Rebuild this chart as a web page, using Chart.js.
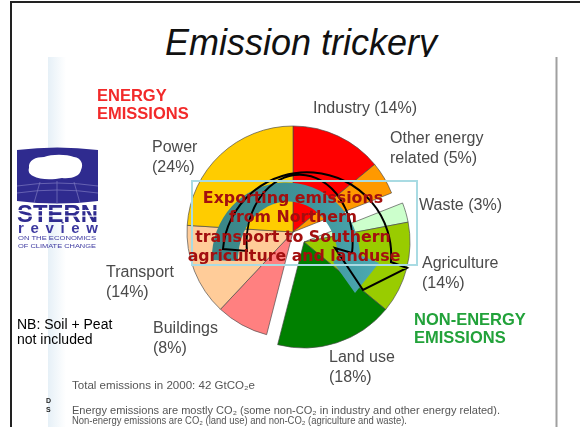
<!DOCTYPE html>
<html>
<head>
<meta charset="utf-8">
<script src="https://cdn.jsdelivr.net/npm/chart.js@4.4.1/dist/chart.umd.min.js"></script>
<style>
  html, body { margin: 0; padding: 0; background: #fff; }
  #slide { position: relative; width: 580px; height: 427px; overflow: hidden; }
  #slide > * { position: absolute; left: 0; top: 0; }
  text { font-family: "Liberation Sans", Arial, sans-serif; }
  .callout text { font-family: "DejaVu Sans", Verdana, sans-serif; }
</style>
</head>
<body>
<div id="slide">
  <svg id="bg" width="580" height="427">
    <defs>
      <linearGradient id="edge" x1="0" x2="1" y1="0" y2="0">
        <stop offset="0" stop-color="#e6f0f7"/>
        <stop offset="1" stop-color="#ffffff"/>
      </linearGradient>
    </defs>
    <text x="301" y="55" text-anchor="middle" font-size="36" font-style="italic" fill="#111">Emission trickery</text>
    <rect x="48" y="57" width="509" height="370" fill="#fff"/>
    <rect x="48" y="57" width="18" height="370" fill="url(#edge)"/>
    <line x1="556.5" y1="57" x2="556.5" y2="427" stroke="#a0a0a0" stroke-width="2"/>
  </svg>

  <canvas id="pie" width="580" height="427"></canvas>

  <svg id="fg" width="580" height="427">
    <defs>
      <linearGradient id="teal" x1="0" x2="1" y1="0" y2="0">
        <stop offset="0" stop-color="#3a8586"/>
        <stop offset="0.55" stop-color="#3f9399"/>
        <stop offset="1" stop-color="#4caab3"/>
      </linearGradient>
    </defs>

    <!-- slide frame -->
    <polyline points="11,427 11,2 580,2" fill="none" stroke="#222" stroke-width="2"/>

    <!-- Stern review logo -->
    <g>
      <path d="M17 150 Q57 145 98 150 L98 201 Q57 206 17 201 Z" fill="#2f2b8f"/>
      <path d="M17 186 Q57 180 98 186 M17 193 Q57 187 98 193 M40 182 L34 203 M57 181 L57 204 M74 182 L80 203"
            fill="none" stroke="#7d79c0" stroke-width="0.7"/>
      <path d="M29 168 C28 160 36 157 44 157 C52 154 66 154 74 157 C81 158 84 164 81 170 C80 176 72 179 62 178 C52 180 40 180 33 176 C29 174 28 171 29 168 Z" fill="#fff"/>
      <text x="17" y="222" font-size="23" font-weight="bold" fill="#2f2b8f" textLength="81" lengthAdjust="spacingAndGlyphs">STERN</text>
      <rect x="17" y="210" width="81" height="1.2" fill="#fff"/>
      <rect x="17" y="215.5" width="81" height="1.2" fill="#fff"/>
      <text x="18" y="233" font-size="15" font-weight="bold" fill="#3d39a0" textLength="80" lengthAdjust="spacing">review</text>
      <text x="18" y="240" font-size="4.6" fill="#3d39a0" textLength="78" lengthAdjust="spacingAndGlyphs">ON THE ECONOMICS</text>
      <text x="18" y="248" font-size="4.6" fill="#3d39a0" textLength="78" lengthAdjust="spacingAndGlyphs">OF CLIMATE CHANGE</text>
    </g>

    <!-- group headings -->
    <g font-size="16.5" font-weight="bold" fill="#f22a2a">
      <text x="97" y="101">ENERGY</text>
      <text x="97" y="119">EMISSIONS</text>
    </g>
    <g font-size="16.5" font-weight="bold" fill="#22a23a">
      <text x="414" y="325">NON-ENERGY</text>
      <text x="414" y="343">EMISSIONS</text>
    </g>

    <g id="labels" font-size="16" fill="#4a4a4a"></g>

    <!-- curved arrow + callout -->
    <path d="M212 260 A74 75 0 1 1 360 255 L379 263 L355 293 L333 262 L338 258 A50 58 0 1 0 238 261 Z" fill="url(#teal)"/>
    <path d="M223 249 A83 82 0 1 1 391 262 L407 268 L363 290 L335 248 L352 253 A53 68 0 1 0 247 251 Z"
          fill="none" stroke="#000" stroke-width="2" stroke-linejoin="miter"/>
    <rect x="192" y="181" width="225" height="84" fill="none" stroke="#a9dbe3" stroke-width="2"/>
    <g class="callout" font-size="15.8" font-weight="bold" fill="#a30f0f" text-anchor="middle">
      <text x="293" y="203">Exporting emissions</text>
      <text x="293" y="222">from Northern</text>
      <text x="293" y="242">transport to Southern</text>
      <text x="294" y="261">agriculture and landuse</text>
    </g>

    <!-- side note and footnotes -->
    <g font-size="14" fill="#000">
      <text x="17" y="329">NB: Soil + Peat</text>
      <text x="17" y="344">not included</text>
    </g>
    <g font-size="10" fill="#555">
      <text x="72" y="389" textLength="183" lengthAdjust="spacingAndGlyphs">Total emissions in 2000: 42 GtCO₂e</text>
      <text x="72" y="414" textLength="428" lengthAdjust="spacingAndGlyphs">Energy emissions are mostly CO₂ (some non-CO₂ in industry and other energy related).</text>
      <text x="72" y="424" textLength="335" lengthAdjust="spacingAndGlyphs">Non-energy emissions are CO₂ (land use) and non-CO₂ (agriculture and waste).</text>
    </g>
    <g font-size="7" font-weight="bold" fill="#222">
      <text x="46" y="403">D</text>
      <text x="46" y="412">S</text>
    </g>
  </svg>
</div>

<script>
const categories = ['Industry', 'Other energy related', 'Waste', 'Agriculture', 'Land use', 'Buildings', 'Transport', 'Power'];
const shares = [14, 5, 3, 14, 18, 8, 14, 24];
const sector = ['energy', 'energy', 'non-energy', 'non-energy', 'non-energy', 'energy', 'energy', 'energy'];
const sliceColors = ['#ff0000', '#ff9900', '#ccffcc', '#99cc00', '#008000', '#ff8080', '#ffcc99', '#ffcc00'];

// label placement on the slide: left x, first baseline, words kept on line one (0 = single line)
const labelSpots = [
  [313, 113, 0], [390, 143, 2], [419, 210, 0], [422, 268, 1],
  [329, 362, 2], [153, 333, 1], [106, 277, 1], [152, 152, 1]
];

// the non-energy slices are pulled out together, not one by one
const explode = { x: 11, y: 10 };

const groupExplode = {
  id: 'groupExplode',
  beforeDatasetDraw(chart, args) {
    const ctx = chart.ctx;
    args.meta.data.forEach((arc, i) => {
      ctx.save();
      if (sector[i] === 'non-energy') ctx.translate(explode.x, explode.y);
      arc.draw(ctx);
      ctx.restore();
    });
    return false;
  }
};

new Chart(document.getElementById('pie'), {
  type: 'pie',
  data: {
    labels: categories,
    datasets: [{
      data: shares,
      backgroundColor: sliceColors,
      borderColor: 'rgba(70,70,70,0.65)',
      borderWidth: 1
    }]
  },
  options: {
    responsive: false,
    animation: false,
    events: [],
    radius: 106,
    layout: { padding: { left: 187, top: 126, right: 181, bottom: 89 } },
    plugins: {
      legend: { display: false },
      tooltip: { enabled: false }
    }
  },
  plugins: [groupExplode]
});

const labelLayer = document.getElementById('labels');
categories.forEach((name, i) => {
  const [x, y, brk] = labelSpots[i];
  const words = `${name} (${shares[i]}%)`.split(' ');
  const lines = brk ? [words.slice(0, brk).join(' '), words.slice(brk).join(' ')] : [words.join(' ')];
  lines.forEach((line, k) => {
    const t = document.createElementNS('http://www.w3.org/2000/svg', 'text');
    t.setAttribute('x', x);
    t.setAttribute('y', y + k * 19.5);
    t.textContent = line;
    labelLayer.appendChild(t);
  });
});
</script>
</body>
</html>
